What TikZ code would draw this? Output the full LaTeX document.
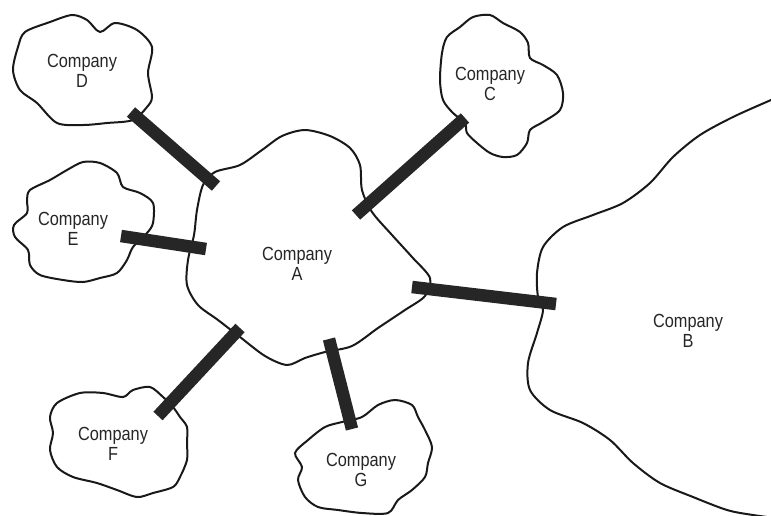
\documentclass[tikz,border=0pt]{standalone}
\usepackage{fontspec}
\newfontfamily\lblfont[FakeStretch=0.86]{Liberation Sans}
\begin{document}
\begin{tikzpicture}[x=1pt,y=-1pt,
  blob/.style={draw=black!90, line width=2pt, fill=white},
  bar/.style={line width=12.5pt, draw=black!85},
  lbl/.style={font=\lblfont\fontsize{19}{20}\selectfont, align=center, text=black!85}]
\useasboundingbox (0,0) rectangle (771,515);

% company outlines
\draw[blob] plot[smooth cycle] coordinates {(18,47) (25,32) (50,22) (72,15) (87,20) (100,32) (115,23) (137,30) (152,47) (148,73) (152,97) (147,107) (133,120) (107,123) (83,125) (57,123) (37,103) (20,90) (13,70)};
\draw[blob] plot[smooth cycle] coordinates {(442,53) (447,37) (460,27) (473,17) (490,15) (503,23) (520,32) (528,43) (530,58) (543,65) (557,75) (563,93) (560,110) (543,122) (530,130) (527,143) (517,155) (503,157) (490,153) (477,143) (467,133) (465,123) (453,113) (443,100) (440,80)};
\draw[blob] plot[smooth cycle] coordinates {(27,200) (30,190) (50,180) (67,170) (83,162) (100,163) (117,173) (123,187) (140,193) (153,203) (153,223) (147,233) (133,247) (127,260) (117,273) (100,278) (83,282) (63,280) (40,275) (30,265) (28,250) (15,237) (14,225) (27,213)};
\draw[blob] plot[smooth cycle] coordinates {(57,403) (80,393) (103,393) (123,397) (133,390) (150,387) (163,397) (173,407) (180,417) (187,427) (187,443) (187,460) (180,477) (173,487) (153,493) (137,497) (117,490) (97,483) (73,477) (57,467) (50,450) (53,433) (50,417)};
\draw[blob] plot[smooth cycle] coordinates {(308,440) (325,427) (342,422) (362,417) (378,405) (395,400) (412,405) (418,417) (425,430) (432,447) (428,463) (425,477) (412,490) (398,500) (388,513) (362,513) (338,510) (318,507) (305,497) (298,480) (302,467) (295,453)};
\draw[blob] plot[smooth cycle] coordinates {(203,185) (215,172) (240,165) (262,150) (282,136) (305,130) (330,136) (350,148) (360,165) (362,190) (372,212) (392,235) (412,257) (430,278) (425,296) (405,310) (378,328) (352,346) (325,352) (305,358) (287,365) (265,356) (240,337) (218,320) (198,305) (187,285) (188,260) (194,235) (197,210)};
\begin{scope}
  \clip (0,0) rectangle (771,515);
  \draw[blob, fill=none] plot[smooth] coordinates {(790,92) (771,100) (733,117) (700,135) (673,157) (650,183) (623,203) (593,215) (563,227) (543,247) (537,273) (538,297) (543,310) (537,333) (528,363) (530,390) (550,410) (583,423) (610,440) (633,463) (660,483) (693,497) (727,510) (753,515) (790,520)};
\end{scope}

% labels
\node[lbl] (A) at (297,264) {Company\\A};
\node[lbl] (B) at (688,331) {Company\\B};
\node[lbl] (C) at (490,84) {Company\\C};
\node[lbl] (D) at (82,71) {Company\\D};
\node[lbl] (E) at (73,229) {Company\\E};
\node[lbl] (F) at (113,444) {Company\\F};
\node[lbl] (G) at (361,470) {Company\\G};

% link end points
\coordinate (aD) at (216,186);  \coordinate (dA) at (131,112);
\coordinate (aC) at (356,215);  \coordinate (cA) at (465,118);
\coordinate (aE) at (206,249);  \coordinate (eA) at (121,236);
\coordinate (aB) at (412,287);  \coordinate (bA) at (556,304);
\coordinate (aF) at (240,328);  \coordinate (fA) at (158,416);
\coordinate (aG) at (329,339);  \coordinate (gA) at (352,429);

% links
\draw[bar] (aD) -- (dA);
\draw[bar] (aC) -- (cA);
\draw[bar] (aE) -- (eA);
\draw[bar] (aB) -- (bA);
\draw[bar] (aF) -- (fA);
\draw[bar] (aG) -- (gA);
\end{tikzpicture}
\end{document}
